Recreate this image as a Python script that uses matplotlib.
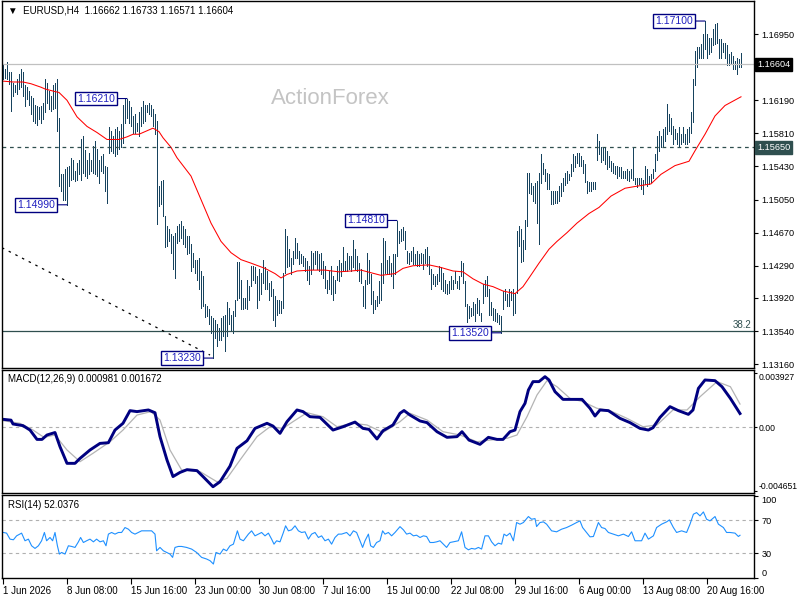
import matplotlib
matplotlib.use("Agg")
import matplotlib.pyplot as plt
import numpy as np

plt.rcParams['font.family'] = ['Liberation Sans', 'DejaVu Sans']

# --- data (prices as pips above 1.1300, one entry per H4 bar) ---
high_pips = [
    360, 355, 363, 352, 351, 339, 337, 343, 349, 355,
    351, 336, 334, 330, 324, 322, 314, 312, 311, 313,
    316, 343, 339, 330, 324, 336, 339, 343, 299, 234,
    234, 240, 242, 244, 253, 250, 238, 247, 251, 274,
    278, 262, 251, 259, 251, 267, 272, 263, 251, 255,
    257, 244, 242, 288, 284, 278, 286, 288, 284, 292,
    314, 320, 321, 318, 311, 301, 303, 293, 305, 311,
    318, 314, 314, 316, 314, 309, 303, 295, 221, 226,
    228, 186, 175, 171, 165, 163, 167, 175, 177, 180,
    175, 171, 163, 163, 154, 144, 136, 136, 138, 123,
    117, 85, 83, 79, 71, 69, 67, 62, 58, 69,
    71, 73, 87, 81, 73, 77, 90, 133, 133, 113,
    92, 92, 113, 106, 129, 129, 127, 117, 125, 121,
    136, 127, 123, 109, 111, 102, 94, 90, 90, 88,
    121, 171, 163, 148, 138, 146, 161, 155, 146, 142,
    140, 138, 134, 129, 146, 144, 146, 146, 142, 144,
    134, 129, 113, 123, 129, 117, 113, 129, 136, 132,
    150, 134, 144, 140, 140, 159, 148, 140, 132, 125,
    106, 113, 144, 136, 120, 100, 90, 94, 111, 132,
    161, 157, 136, 140, 132, 142, 142, 180, 169, 171,
    173, 169, 146, 144, 146, 150, 142, 146, 142, 144,
    142, 148, 150, 140, 125, 119, 117, 119, 129, 127,
    121, 113, 108, 111, 117, 113, 123, 111, 117, 134,
    132, 111, 85, 83, 81, 87, 85, 92, 90, 75,
    108, 113, 117, 102, 87, 81, 79, 75, 73, 71,
    100, 102, 96, 102, 100, 102, 98, 169, 175, 171,
    159, 182, 236, 236, 224, 221, 224, 226, 236, 257,
    247, 240, 236, 234, 215, 215, 215, 215, 221, 224,
    230, 236, 238, 234, 246, 257, 255, 259, 259, 255,
    251, 246, 226, 225, 225, 225, 225, 280, 272, 265,
    265, 265, 261, 255, 249, 247, 244, 244, 242, 242,
    238, 238, 240, 238, 240, 265, 230, 230, 230, 230,
    228, 244, 240, 232, 234, 240, 257, 278, 284, 278,
    286, 288, 315, 303, 299, 290, 286, 282, 288, 280,
    288, 280, 286, 288, 305, 343, 376, 380, 380, 384,
    395, 410, 395, 391, 391, 401, 407, 408, 389, 389,
    385, 385, 382, 372, 374, 370, 364, 368, 366, 373,
]
low_pips = [
    343, 345, 343, 338, 307, 324, 328, 326, 332, 334,
    324, 313, 320, 314, 303, 295, 293, 291, 297, 293,
    297, 305, 316, 309, 307, 309, 310, 284, 221, 215,
    205, 205, 199, 221, 228, 229, 226, 228, 234, 228,
    236, 232, 230, 234, 238, 236, 234, 232, 224, 238,
    236, 215, 201, 259, 261, 259, 255, 257, 263, 265,
    270, 293, 299, 293, 290, 282, 282, 284, 278, 290,
    293, 295, 305, 303, 301, 290, 280, 177, 198, 200,
    186, 150, 152, 157, 144, 125, 115, 155, 157, 161,
    154, 150, 142, 144, 123, 127, 121, 113, 102, 81,
    83, 70, 71, 62, 52, 23, 46, 37, 44, 44,
    48, 31, 48, 62, 54, 52, 71, 90, 92, 79,
    79, 81, 79, 90, 106, 113, 109, 81, 90, 96,
    109, 102, 102, 90, 94, 67, 60, 73, 75, 75,
    81, 121, 127, 129, 119, 131, 138, 138, 131, 132,
    129, 123, 113, 108, 119, 125, 131, 125, 123, 119,
    115, 104, 98, 102, 96, 90, 98, 113, 111, 117,
    123, 123, 123, 125, 123, 127, 125, 123, 111, 109,
    83, 81, 108, 109, 85, 75, 79, 83, 86, 90,
    109, 121, 119, 119, 117, 104, 119, 140, 155, 157,
    159, 148, 132, 131, 134, 131, 131, 129, 129, 132,
    125, 132, 129, 119, 102, 108, 106, 108, 111, 102,
    100, 98, 96, 98, 102, 102, 109, 104, 102, 117,
    109, 83, 64, 69, 71, 73, 65, 75, 73, 65,
    86, 94, 94, 73, 73, 67, 65, 64, 62, 52,
    79, 90, 83, 83, 90, 73, 75, 98, 152, 133,
    134, 148, 175, 213, 211, 203, 201, 178, 154, 224,
    234, 226, 217, 217, 200, 200, 201, 201, 203, 209,
    215, 222, 224, 228, 232, 238, 242, 247, 244, 244,
    236, 225, 213, 215, 215, 217, 217, 250, 257, 248,
    250, 246, 240, 242, 238, 236, 234, 230, 232, 230,
    230, 230, 228, 226, 230, 227, 223, 219, 223, 217,
    211, 223, 221, 223, 225, 230, 238, 250, 261, 265,
    267, 272, 280, 284, 280, 269, 274, 269, 265, 269,
    271, 269, 269, 271, 282, 294, 336, 357, 368, 368,
    368, 378, 368, 372, 374, 382, 384, 385, 368, 368,
    374, 368, 359, 359, 361, 355, 355, 349, 357, 357,
]

# red moving average (bar, pips)
ma_bar = [0, 5, 10, 14, 19, 21, 26, 28, 32, 37, 42, 47, 52, 58, 62, 65, 68, 72, 75, 78,
          80, 84, 87, 94, 99, 104, 109, 114, 119, 124, 131, 136, 139, 142, 147, 154, 161,
          168, 174, 179, 184, 189, 196, 200, 205, 213, 219, 225, 230, 235, 240, 245, 250,
          256, 260, 263, 268, 273, 277, 282, 287, 293, 298, 304, 311, 316, 324, 329, 336,
          343, 346, 351, 356, 361, 369]
ma_pips = [341, 340, 340, 338, 334, 332, 329, 328, 319, 300, 289, 282, 274, 274, 277, 280,
           280, 284, 287, 283, 276, 265, 253, 232, 205, 178, 157, 144, 136, 132, 126, 120,
           115, 119, 123, 124, 124, 122, 123, 124, 121, 118, 120, 126, 129, 130, 127, 123,
           122, 114, 108, 105, 100, 97, 105, 115, 132, 148, 157, 167, 178, 189, 196, 209,
           218, 220, 223, 234, 244, 249, 261, 280, 301, 313, 323]

# MACD main and signal (bar, value x 1e-4)
macd_bar = [0, 4, 5, 10, 13.5, 17, 19.5, 22, 26, 28.5, 32, 36, 38.5, 43.5, 48.5, 52.7, 56, 60,
            63.5, 67, 72.7, 76, 78.5, 82, 85, 88.5, 92, 97, 100, 105, 108.5, 113.5, 117, 122,
            126, 132, 135, 138.5, 142, 147, 150, 153.5, 158.5, 165, 170, 176, 180, 183, 187,
            190, 195, 198.5, 200.5, 203.5, 208.5, 212, 217, 222, 227, 229.5, 233, 238.5,
            242.7, 247, 250, 253.5, 256, 258.5, 261, 262.7, 265, 268, 271, 273, 276, 280,
            285, 289.5, 293.5, 296, 298.5, 302.7, 308.5, 313.5, 318.5, 322.7, 325, 328.5,
            333.5, 337.7, 342.7, 345, 347.7, 351, 356, 359.5, 363.7, 368.5]
macd_val = [5.6, 5, 2.2, 1, -2.2, -9, -9, -5.8, -4, -14.3, -26.4, -26.4, -22.8, -16.7, -11.9,
            -11.4, -2.2, 2.7, 11.9, 11.2, 12.4, 10.4, -7, -24, -36, -33, -31, -31.7, -36,
            -43.4, -39.8, -28.4, -15.5, -10, -1, 2.7, 0.7, -4.6, 3.9, 12.4, 11.2, 7.5, 7,
            -2.2, 0.2, 3.6, -1, -1.7, -8.7, -2.7, 1.5, 10, 12, 8.7, 4.4, 3.2, -3.4, -7.5, -7,
            -3.4, -9.5, -12.6, -7.5, -9, -9, -3.4, -2.2, 11.2, 17.2, 26.9, 33, 33, 36.6, 34.2,
            25.7, 20.1, 20.1, 20.1, 13.6, 8, 12.4, 11.9, 6.3, 3.2, -1, -2.2, -0.5, 7, 14.8,
            11.9, 9.2, 12.4, 28.1, 34.2, 33.7, 29.3, 20.8, 9.8]
signal_bar = [0, 8.5, 15, 20.5, 26, 32, 38.5, 45, 53.5, 60, 67, 74, 78.5, 83.5, 89.3, 98.5,
              107, 112, 118.5, 127, 133.5, 140, 145, 152, 160, 167, 175, 182, 190, 198.5,
              203.5, 212, 220, 228.5, 237, 243.5, 252, 257, 262, 267, 272, 277, 283.5, 290,
              297, 303.5, 312, 320, 327, 335, 342, 348.5, 357, 363.7, 368.5]
signal_val = [4.6, 2.7, -2.2, -7.5, -5.8, -16.7, -25.2, -19.1, -10.7, -2.2, 8.7, 11.2, 5.1,
              -16.7, -31.2, -32.4, -39.8, -37.3, -24, -7, 0.2, -1, 3.9, 10.4, 7.5, 0.2, 2.7,
              1.5, -4, 3.9, 10, 5.1, -3.4, -5.8, -10.7, -9.5, -8.2, -5.8, 7.5, 23.3, 33.7,
              29.3, 20.8, 18.4, 13.6, 11.9, 6.3, 0.2, 1.5, 12.4, 12.4, 22, 33, 29.3, 16.7]

# RSI(14)
rsi_bar = [0.2, 1.8, 3.5, 5.2, 6.8, 9.3, 11, 12.7, 14.3, 16, 17.7, 19.3, 20.7, 21.8, 23.5,
           24.8, 26, 27.2, 28.2, 29.3, 31, 32.7, 34.3, 36, 37.7, 38.8, 40.2, 41.8, 43.5, 45.2,
           46.8, 48.5, 50.2, 51.5, 52.7, 54.3, 56, 57.7, 59.3, 61, 62.7, 64.3, 66, 67.7, 69.3,
           71.8, 74.3, 76, 76.8, 78.5, 80.2, 81.8, 83.5, 84.8, 86, 87.7, 89.3, 91.8, 94.3,
           96.8, 99.3, 101.8, 103.5, 105.2, 106.5, 108.5, 110.2, 111.8, 113.5, 115.2, 117.2,
           118.5, 120.2, 122.7, 124.3, 126, 127.7, 129.3, 131, 132.7, 134.3, 135.5, 136.8,
           138.5, 140.2, 141.3, 142.7, 144.3, 146, 147.7, 149.3, 151, 152.7, 154.3, 156,
           157.7, 159.3, 161, 162.7, 164.3, 166, 167.7, 169.3, 171.8, 173.5, 175.2, 176.8,
           178.5, 179.8, 181, 182.7, 183.8, 185.2, 186.8, 188.5, 189.8, 191, 192.7, 194.3,
           196, 198.5, 200.2, 201.8, 203.5, 205.2, 206.8, 208.5, 210.2, 211.8, 213.5, 215.2,
           216.8, 218.5, 220.2, 221.8, 223.5, 225.2, 227.7, 229.3, 231, 232.7, 234.3, 236,
           237.7, 239.3, 241, 242.7, 244.3, 246, 247.7, 249.3, 250.5, 251.8, 253.5, 255.2,
           256.8, 258.5, 260.2, 262.7, 264.3, 266, 266.8, 268.5, 270.2, 271.8, 274.3, 276.8,
           279.3, 281.8, 284.3, 286.8, 288.5, 289.8, 291.8, 293.5, 295.2, 296.8, 297.7, 299.3,
           301, 302.7, 305.2, 307.7, 310.2, 312.7, 314.3, 316, 317.7, 319.3, 321, 322.7,
           325.2, 326.8, 329.3, 331.8, 333.2, 335.2, 336.8, 339.3, 341.8, 343.5, 345.2, 346.8,
           348.5, 350.2, 351.8, 353.5, 356, 357.7, 360.2, 361.8, 363.5, 366, 367.7, 368.5]
rsi_val = [55.4, 54.6, 47.3, 46.5, 51.3, 54.6, 45.3, 47.3, 39.2, 36, 39.2, 45.3, 55.4, 45.3,
           49.3, 45.3, 55.4, 39.2, 29.1, 31.1, 29.1, 39.2, 38.4, 37.2, 44, 49.3, 43.2, 45.3,
           47.3, 44, 47.3, 44, 45.3, 39.2, 53.4, 55.4, 53.4, 55.4, 55.4, 61.4, 59.4, 55.4,
           53.4, 55.4, 57.4, 57.4, 57.4, 53.4, 33.1, 37.2, 33.1, 31.1, 29.1, 25.1, 37.2, 38.4,
           38.4, 37.2, 35.2, 31.1, 25.1, 23.1, 21.1, 17, 31.1, 29.1, 35.2, 33.1, 39.2, 41.2,
           57.4, 47.3, 45.3, 53.4, 57.4, 51.3, 53.4, 55.4, 51.3, 54.6, 47.3, 41.2, 45.3, 44,
           55.4, 63.5, 57.4, 58.6, 63.5, 57.4, 55.4, 56.2, 47.3, 53.4, 55.4, 49.3, 51.3, 45.3,
           47.3, 41.2, 49.3, 53.4, 53.4, 55.4, 51.3, 57.4, 55.4, 45.3, 37.2, 45.3, 53.4, 39.2,
           37.2, 43.2, 45.3, 57.4, 53.4, 55.4, 51.3, 55.4, 62.5, 58.6, 53.4, 54.6, 51.3, 52.1,
           49.3, 51.3, 50.5, 43.2, 43.2, 44, 45.3, 41.2, 37.2, 43.2, 44, 45.3, 56.2, 37.2,
           34.3, 36, 35.2, 37.2, 35.2, 51.3, 51.3, 44, 39.2, 42.4, 41.2, 53.4, 51.3, 54.6,
           45.3, 67.5, 65.5, 67.5, 74.8, 71.5, 72.3, 62.6, 67.5, 68.3, 65.5, 57.4, 56.2, 59.4,
           61.4, 64.3, 67.5, 69.5, 61.4, 55.4, 50.1, 50.5, 61.4, 67.5, 61.4, 60.2, 55.4, 53.4,
           51.3, 53.4, 50.5, 56.2, 45.3, 45.3, 45.3, 54.6, 47.3, 51.3, 61.4, 65.5, 68.3, 70.7,
           61.4, 55.4, 57.4, 55.4, 65.5, 77.6, 79.6, 75.6, 80.4, 71.5, 69.5, 74.8, 65.5, 61.4,
           55.4, 55.4, 54.6, 50.5, 52.0]

# price levels and annotations
current_price = 1.16604
level_dashed = 1.15650
level_fib = 1.13540
trend_bar = [-0.5, 103.5]
trend_price = [1.14497, 1.13265]
price_ticks = [1.16950, 1.16570, 1.16190, 1.15810, 1.15430, 1.15050,
               1.14670, 1.14290, 1.13920, 1.13540, 1.13160]
swing_bar = [62, 32, 105, 197, 249, 351]
swing_price = [1.16210, 1.14990, 1.13230, 1.14810, 1.13520, 1.17100]
date_bar = [0, 32, 64, 96, 128, 160, 192, 224, 256, 288, 320, 352]
date_lbl = ['1 Jun 2026', '8 Jun 08:00', '15 Jun 16:00', '23 Jun 00:00', '30 Jun 08:00',
            '7 Jul 16:00', '15 Jul 00:00', '22 Jul 08:00', '29 Jul 16:00', '6 Aug 00:00',
            '13 Aug 08:00', '20 Aug 16:00']

bars = np.arange(len(high_pips))
highs = 1.13 + np.array(high_pips) / 10000.0
lows = 1.13 + np.array(low_pips) / 10000.0

W, H = 800, 600
fig = plt.figure(figsize=(8, 6), dpi=100)
fig.patch.set_facecolor('white')

def pane(top, bottom):
    return fig.add_axes([2 / W, 1 - bottom / H, (754 - 2) / W, (bottom - top) / H])

ax1 = pane(1, 368)
ax2 = pane(370, 493)
ax3 = pane(495, 578)
XL = (-0.5, 375.5)
for a in (ax1, ax2, ax3):
    a.set_xlim(*XL)
    a.set_facecolor('white')
    for s in a.spines.values():
        s.set_color('black')
        s.set_linewidth(1)
    a.yaxis.tick_right()
    a.tick_params(axis='y', direction='out', length=3, width=0.8, labelsize=6.6, pad=2.5)
    a.tick_params(axis='x', bottom=False, labelbottom=False)

# main price pane
ax1.set_ylim(1.13116, 1.17330)
lc = ax1.vlines(bars, lows, highs, colors='#17435e', linewidth=0.55)
lc.set_antialiased(False)
ax1.plot(ma_bar, 1.13 + np.array(ma_pips) / 10000.0, color='red', lw=0.75)
ax1.axhline(current_price, color='#c0c0c0', lw=0.9)
ax1.axhline(level_dashed, color='#2f4f4f', lw=0.9, ls=(0, (3, 3)))
ax1.axhline(level_fib, color='#2f4f4f', lw=0.9)
ax1.plot(trend_bar, trend_price, color='black', lw=0.9, ls=(0, (2, 4)))
ax1.text(0.997, level_fib + 0.00008, '38.2', transform=ax1.get_yaxis_transform(),
         ha='right', va='bottom', fontsize=7, color='#2f4f4f')
ax1.set_yticks(price_ticks)
# the 1.16570 label sits under the current-price box, as in the terminal
ax1.set_yticklabels(['' if v == 1.16570 else '%.5f' % v for v in price_ticks])

for b, p in zip(swing_bar, swing_price):
    ax1.annotate('%.5f' % p, xy=(b, p), xytext=(-12, 0), textcoords='offset pixels',
                 ha='right', va='center', fontsize=7.5, color='#2020c0',
                 bbox=dict(boxstyle='square,pad=0.18', fc='white', ec='#000080', lw=1),
                 arrowprops=dict(arrowstyle='-', color='#000080', lw=0.8,
                                 shrinkA=0, shrinkB=0))

for p, bg in ((current_price, 'black'), (level_dashed, '#2f4f4f')):
    ax1.text(1.004, p, '%.5f' % p, transform=ax1.get_yaxis_transform(), ha='left',
             va='center', fontsize=6.6, color='white', clip_on=False,
             bbox=dict(boxstyle='square,pad=0.2', fc=bg, ec=bg))

ax1.text(6 / 752, 0.975, '\u25bc  EURUSD,H4  1.16662 1.16733 1.16571 1.16604',
         transform=ax1.transAxes, fontsize=7, va='center', ha='left', color='black')
ax1.text(0.436, 0.735, 'ActionForex', transform=ax1.transAxes, fontsize=16,
         color='#c4c4c4', ha='center', va='center')

# MACD pane
ax2.set_ylim(-0.004796, 0.004145)
ax2.axhline(0, color='#b0b0b0', lw=0.8, ls=(0, (3, 3)))
ax2.plot(signal_bar, np.array(signal_val) * 1e-4, color='#b4b4b4', lw=0.9)
ax2.plot(macd_bar, np.array(macd_val) * 1e-4, color='#000080', lw=2.1)
ax2.set_yticks([0.003927, 0.0, -0.004651])
ax2.set_yticklabels(['0.003927', '0.00', '-0.004651'])
ax2.tick_params(axis='y', labelsize=6.2, pad=1.2, length=2)
t = ax2.get_yticklabels()
t[0].set_va('top')
t[2].set_va('bottom')
ax2.text(6 / 752, 0.93, 'MACD(12,26,9) 0.000981 0.001672', transform=ax2.transAxes,
         fontsize=7, va='center', ha='left')

# RSI pane
ax3.set_ylim(0, 101)
for lvl in (70, 30):
    ax3.axhline(lvl, color='#b0b0b0', lw=0.8, ls=(0, (3, 3)))
ax3.plot(rsi_bar, rsi_val, color='#1e90ff', lw=0.8)
ax3.set_yticks([100, 70, 30, 0])
ax3.set_yticklabels(['100', '70', '30', '0'])
t = ax3.get_yticklabels()
t[0].set_va('top')
t[3].set_va('bottom')
ax3.text(6 / 752, 0.88, 'RSI(14) 52.0376', transform=ax3.transAxes,
         fontsize=7, va='center', ha='left')

ax3.tick_params(axis='x', bottom=True, labelbottom=True, direction='out', length=4,
                width=0.8, labelsize=7, pad=2)
ax3.set_xticks(date_bar)
ax3.set_xticklabels(date_lbl)
for lbl in ax3.get_xticklabels():
    lbl.set_ha('left')

fig.savefig('out.png', dpi=100, facecolor='white')
